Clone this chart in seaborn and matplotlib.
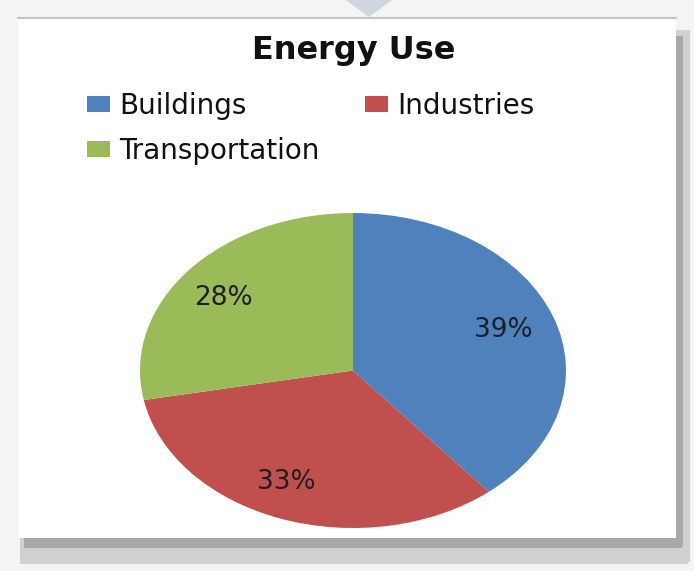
import matplotlib
matplotlib.use("Agg")
import matplotlib.pyplot as plt
from matplotlib.patches import Rectangle, Polygon
import seaborn as sns

# ---- data ----
categories = ["Buildings", "Industries", "Transportation"]
shares = [39, 33, 28]
slice_colors = ["#4F81BD", "#C0504D", "#9BBB59"]
title_text = "Energy Use"

sns.set_style("white")
plt.rcParams["font.family"] = ["DejaVu Sans"]
palette = sns.color_palette(slice_colors)

W, H = 694, 571
fig = plt.figure(figsize=(W / 100, H / 100), dpi=100)
fig.patch.set_facecolor("#f4f4f4")

# background / frame layer in pixel coordinates
bg = fig.add_axes([0, 0, 1, 1])
bg.set_xlim(0, W)
bg.set_ylim(H, 0)
bg.axis("off")
# soft outer shadow
bg.add_patch(Rectangle((20, 538), 668, 26, facecolor="#d0d0d0", edgecolor="none"))
bg.add_patch(Rectangle((676, 30), 14, 532, facecolor="#d0d0d0", edgecolor="none"))
# darker inner shadow
bg.add_patch(Rectangle((24, 538), 658, 10, facecolor="#a8a8a8", edgecolor="none"))
bg.add_patch(Rectangle((676, 36), 7, 510, facecolor="#a8a8a8", edgecolor="none"))
# white panel
bg.add_patch(Rectangle((18, 19), 658, 519, facecolor="white", edgecolor="none"))
# top line
bg.plot([18, 676], [18, 18], color="#c4c4c4", lw=1.5)
# top pointer triangle
bg.add_patch(Polygon([[346, 0], [392, 0], [369, 17]], closed=True,
                     facecolor="#cfd6df", edgecolor="none"))

# title
fig.text(354 / W, 1 - 59 / H, title_text, ha="center", va="baseline",
         fontsize=23, fontweight="bold", color="#111111")

# pie
ax = fig.add_axes([140 / W, 1 - 528 / H, 426 / W, 315 / H])
wedges, texts, autotexts = ax.pie(
    shares, colors=palette, startangle=90, counterclock=False,
    autopct=lambda p: f"{p:.0f}%", pctdistance=0.75,
    wedgeprops=dict(edgecolor="none"),
    textprops=dict(fontsize=19, color="#1e1e26"))
ax.set_aspect("auto")
ax.set_xlim(-1, 1)
ax.set_ylim(-1, 1)
ax.axis("off")
# Excel places the Industries label a little further left
x, y = autotexts[1].get_position()
autotexts[1].set_position((x - 0.06, y))
x, y = autotexts[2].get_position()
autotexts[2].set_position((x - 0.03, y - 0.02))

# legend (row-major order like Excel)
order = [0, 2, 1]
leg = fig.legend([wedges[i] for i in order], [categories[i] for i in order],
                 ncol=2, loc="upper left", bbox_to_anchor=(87 / W, 1 - 92 / H),
                 frameon=False, fontsize=20, handlelength=0.83, handleheight=0.54,
                 handletextpad=0.32, columnspacing=1.65, labelspacing=0.6,
                 borderpad=0, borderaxespad=0)
for t in leg.get_texts():
    t.set_color("#111111")

fig.savefig("out.png", dpi=100, facecolor=fig.get_facecolor())
